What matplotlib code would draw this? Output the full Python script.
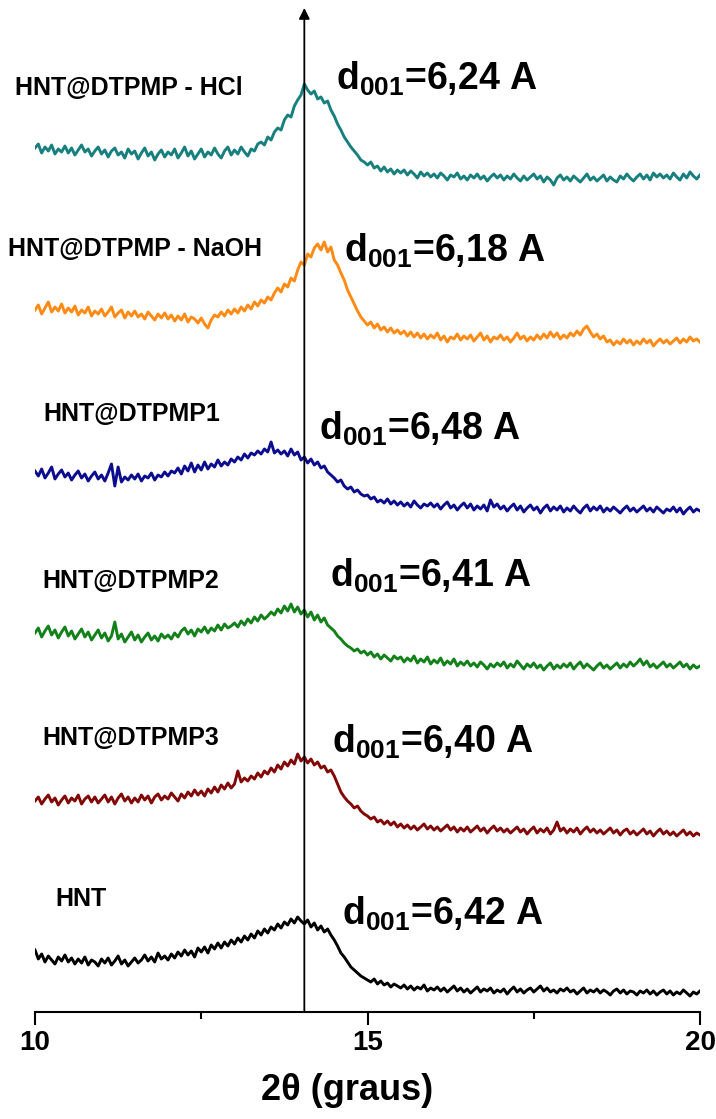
import numpy as np
import matplotlib
matplotlib.use("Agg")
import matplotlib.pyplot as plt

plt.rcParams['font.family'] = ['Liberation Sans', 'DejaVu Sans']
plt.rcParams['mathtext.fontset'] = 'custom'
plt.rcParams['mathtext.rm'] = 'Liberation Sans:bold'
plt.rcParams['mathtext.bf'] = 'Liberation Sans:bold'
plt.rcParams['mathtext.default'] = 'rm'

# 2theta grid, 0.05 deg steps
two_theta = np.round(np.arange(10.0, 20.0001, 0.05), 2)

# stacked intensities (arbitrary units, offsets included)
hcl = [852, 856, 847, 853, 849, 855, 846, 851, 848, 854,
       847, 852, 845, 850, 855, 848, 851, 844, 849, 853,
       846, 850, 843, 849, 852, 845, 848, 842, 851, 846,
       849, 841, 847, 852, 844, 848, 840, 846, 850, 843,
       848, 845, 851, 842, 847, 853, 844, 849, 841, 846,
       851, 843, 848, 845, 852, 846, 842, 849, 853, 845,
       850, 846, 853, 848, 844, 851, 849, 856, 858, 855,
       863, 860, 868, 872, 870, 880, 885, 883, 894, 900,
       905, 916, 910, 906, 909, 901, 903, 897, 899, 890,
       884, 876, 870, 863, 858, 853, 849, 845, 840, 838,
       835, 838, 832, 834, 829, 833, 828, 831, 826, 830,
       827, 830, 825, 829, 826, 822, 828, 824, 827, 823,
       826, 822, 827, 824, 820, 825, 823, 827, 821, 824,
       820, 825, 822, 826, 821, 824, 819, 823, 826, 822,
       825, 820, 824, 821, 826, 822, 819, 824, 820, 823,
       826, 821, 824, 818, 823, 820, 815, 822, 825, 820,
       823, 819, 824, 821, 818, 822, 826, 820, 823, 819,
       822, 825, 819, 823, 820, 818, 824, 821, 826, 822,
       819, 823, 826, 821, 825, 820, 827, 823, 826, 822,
       825, 821, 827, 823, 820, 826, 822, 828, 824, 821, 825]

naoh = [690, 695, 686, 692, 698, 688, 693, 689, 696, 687,
        692, 688, 694, 685, 690, 687, 693, 684, 689, 686,
        691, 684, 688, 693, 683, 687, 690, 682, 688, 684,
        689, 683, 686, 681, 688, 684, 680, 686, 682, 687,
        681, 685, 679, 684, 680, 686, 678, 683, 681, 677,
        682, 676, 672, 680, 685, 683, 688, 684, 690, 686,
        691, 687, 693, 689, 695, 691, 698, 694, 700, 697,
        703, 700, 707, 712, 708, 716, 713, 722, 719, 730,
        738, 735, 746, 743, 752, 756, 750, 758, 748, 753,
        740, 735, 727, 720, 710, 703, 696, 689, 683, 679,
        675, 678, 672, 676, 670, 673, 668, 672, 667, 670,
        666, 669, 664, 668, 663, 667, 662, 666, 661, 665,
        662, 667, 660, 664, 658, 663, 661, 666, 660, 664,
        661, 665, 659, 663, 667, 660, 664, 658, 663, 661,
        665, 660, 663, 658, 662, 667, 661, 664, 659, 663,
        660, 665, 661, 666, 662, 668, 663, 667, 661, 665,
        662, 667, 664, 669, 665, 671, 674, 668, 663, 666,
        661, 664, 658, 660, 655, 659, 656, 661, 657, 660,
        655, 659, 656, 661, 657, 660, 654, 658, 661, 657,
        660, 656, 659, 662, 657, 661, 658, 663, 659, 661, 658]

dtpmp1 = [529, 524, 531, 522, 527, 533, 521, 526, 530, 523,
          527, 520, 525, 529, 522, 526, 519, 524, 528, 521,
          525, 519, 527, 536, 514, 533, 518, 523, 520, 525,
          521, 526, 519, 524, 522, 527, 520, 525, 523, 528,
          524, 529, 527, 532, 526, 534, 529, 537, 528, 535,
          530, 538, 531, 536, 533, 540, 534, 538, 535, 541,
          538, 543, 540, 546, 542, 547, 545, 549, 546, 551,
          548, 558, 547, 550, 546, 549, 544, 551, 545, 548,
          540, 543, 537, 541, 535, 538, 532, 534, 528, 525,
          522, 518, 520, 514, 511, 513, 508, 510, 506, 504,
          505, 501, 503, 498, 500, 497, 501, 496, 499, 495,
          498, 494, 497, 493, 499, 495, 492, 496, 494, 497,
          493, 496, 491, 495, 498, 492, 495, 490, 494, 497,
          492, 496, 490, 494, 491, 495, 489, 500, 493, 496,
          491, 494, 489, 493, 496, 490, 494, 488, 492, 495,
          490, 493, 487, 492, 495, 489, 493, 490, 494, 488,
          492, 489, 494, 490, 487, 492, 495, 489, 493, 490,
          494, 488, 492, 489, 493, 490, 487, 491, 494, 489,
          492, 488, 491, 494, 489, 492, 488, 493, 490, 487,
          491, 489, 493, 488, 492, 486, 490, 493, 488, 491, 489]

dtpmp2 = [367, 372, 363, 369, 374, 365, 370, 362, 368, 373,
          364, 369, 361, 366, 371, 363, 368, 360, 365, 370,
          362, 367, 359, 364, 378, 361, 366, 358, 363, 368,
          360, 365, 358, 363, 367, 360, 364, 359, 366, 362,
          365, 361, 367, 363, 369, 372, 366, 370, 364, 371,
          368, 373, 367, 372, 369, 375, 370, 376, 372, 374,
          377, 373, 379, 375, 381, 377, 383, 379, 385, 381,
          384, 388, 385, 391, 387, 394, 389, 396, 388, 393,
          386, 390, 383, 388, 380, 385, 378, 382, 375, 372,
          369, 364, 361, 357, 354, 352, 349, 351, 347, 349,
          345, 348, 343, 346, 341, 345, 342, 339, 344, 341,
          343, 338, 342, 339, 344, 337, 341, 338, 343, 336,
          340, 337, 342, 335, 339, 336, 341, 334, 338, 335,
          339, 334, 337, 333, 338, 335, 331, 336, 333, 337,
          334, 338, 332, 336, 333, 339, 335, 331, 336, 333,
          337, 332, 335, 330, 334, 337, 331, 335, 332, 336,
          333, 337, 331, 335, 338, 332, 336, 333, 330, 334,
          337, 332, 335, 331, 334, 337, 332, 336, 333, 338,
          334, 337, 341, 335, 339, 333, 336, 332, 335, 338,
          333, 336, 332, 335, 338, 333, 336, 331, 335, 332, 334]

dtpmp3 = [199, 203, 196, 201, 205, 198, 202, 195, 200, 204,
          197, 202, 199, 205, 196, 201, 204, 198, 203, 197,
          201, 205, 198, 203, 196, 202, 206, 199, 203, 197,
          202, 198, 205, 200, 204, 197, 203, 206, 200, 204,
          201, 207, 203, 199, 206, 202, 208, 204, 210, 205,
          209, 204, 211, 207, 213, 208, 215, 211, 217, 212,
          216, 229, 218, 222, 219, 224, 221, 227, 223, 229,
          226, 232, 228, 235, 231, 238, 234, 240, 236, 246,
          239, 243, 237, 241, 235, 238, 232, 234, 228, 230,
          224, 216, 208, 203, 199, 196, 192, 194, 189, 186,
          184, 181, 183, 178, 180, 176, 179, 175, 178, 173,
          176, 172, 175, 171, 174, 170, 173, 176, 171, 174,
          170, 173, 169, 172, 175, 170, 173, 168, 172, 169,
          173, 168, 171, 174, 169, 172, 167, 171, 174, 169,
          172, 168, 171, 167, 170, 173, 168, 171, 166, 170,
          173, 167, 171, 168, 172, 166, 170, 178, 169, 172,
          167, 171, 168, 172, 166, 170, 173, 168, 171, 167,
          170, 166, 169, 172, 167, 170, 165, 169, 171, 166,
          169, 165, 168, 171, 166, 169, 164, 168, 171, 166,
          169, 165, 168, 164, 167, 170, 165, 168, 164, 167, 165]

hnt = [50, 41, 46, 38, 44, 40, 36, 43, 39, 45,
       38, 42, 36, 41, 37, 43, 35, 40, 38, 34,
       41, 37, 42, 35, 39, 44, 36, 40, 34, 38,
       42, 37, 40, 45, 39, 43, 38, 47, 41, 44,
       40, 46, 42, 48, 44, 50, 45, 49, 43, 52,
       48, 53, 47, 55, 51, 57, 52, 58, 54, 60,
       56, 62, 58, 64, 60, 66, 62, 69, 65, 71,
       67, 73, 70, 76, 72, 78, 75, 81, 77, 83,
       79, 76, 80, 73, 77, 70, 74, 68, 71, 65,
       60, 54, 47, 43, 38, 33, 30, 27, 24, 22,
       20, 18, 21, 16, 19, 15, 17, 13, 16, 14,
       12, 15, 11, 14, 10, 13, 11, 15, 9, 12,
       10, 13, 9, 12, 8, 11, 14, 9, 12, 8,
       11, 7, 10, 13, 8, 11, 9, 12, 7, 10,
       8, 11, 6, 10, 13, 8, 11, 7, 10, 12,
       8, 11, 14, 9, 12, 8, 10, 7, 11, 9,
       12, 8, 10, 6, 9, 12, 7, 10, 8, 11,
       7, 10, 8, 5, 9, 11, 7, 10, 6, 9,
       8, 5, 9, 7, 10, 6, 9, 5, 8, 10,
       6, 9, 5, 8, 6, 10, 7, 4, 8, 6, 9]

names = ["HNT@DTPMP - HCl", "HNT@DTPMP - NaOH", "HNT@DTPMP1",
         "HNT@DTPMP2", "HNT@DTPMP3", "HNT"]
spacings = ["6,24", "6,18", "6,48", "6,41", "6,40", "6,42"]
peak_pos = 14.05
series = [hcl, naoh, dtpmp1, dtpmp2, dtpmp3, hnt]

colors = ["#17807f", "#ff8a14", "#0c0c8e", "#13811a", "#820808", "#000000"]
name_xy = [(9.70, 905), (9.59, 744), (10.12, 579), (10.11, 412), (10.11, 255), (10.30, 94)]
d_xy = [(14.52, 910), (14.64, 738), (14.27, 560), (14.43, 413), (14.46, 247), (14.61, 75)]

B = 1012  # pixel row of the x axis
fig = plt.figure(figsize=(7.16, 11.19), dpi=100)
ax = fig.add_axes([35 / 716, (1119 - B) / 1119, 665 / 716, B / 1119])
ax.set_xlim(10, 20)
ax.set_ylim(1000 - B, 1000)

for y, c in zip(series, colors):
    ax.plot(two_theta, y, color=c, lw=2.1)

for name, (tx, ty) in zip(names, name_xy):
    ax.text(tx, ty, name, fontsize=18, fontweight='bold', va='baseline', ha='left')

for d, (tx, ty) in zip(spacings, d_xy):
    ax.text(tx, ty, 'd$_{001}$=' + d + ' A', fontsize=27, fontweight='bold',
            va='baseline', ha='left')

# reference line for the d001 reflection
ax.annotate('', xy=(peak_pos, 992), xytext=(peak_pos, 1000 - B),
            arrowprops=dict(arrowstyle='-|>', color='black', lw=1.3,
                            mutation_scale=16, shrinkA=0, shrinkB=0))

for s in ['left', 'right', 'top']:
    ax.spines[s].set_visible(False)
ax.spines['bottom'].set_linewidth(1.5)
ax.set_yticks([])
ax.set_xticks([10, 15, 20])
ax.set_xticks([12.5, 17.5], minor=True)
ax.tick_params(axis='x', which='major', direction='out', length=9, width=1.5, pad=4)
ax.tick_params(axis='x', which='minor', direction='out', length=5, width=1.5)
for lab in ax.get_xticklabels():
    lab.set_fontweight('bold')
    lab.set_fontsize(20)

ax.set_xlabel('2θ (graus)', fontsize=26, fontweight='bold')
ax.xaxis.label.set_va('center')
ax.xaxis.set_label_coords((347 - 35) / 665, -(1090 - B) / B)

fig.savefig('out.png', dpi=100)
